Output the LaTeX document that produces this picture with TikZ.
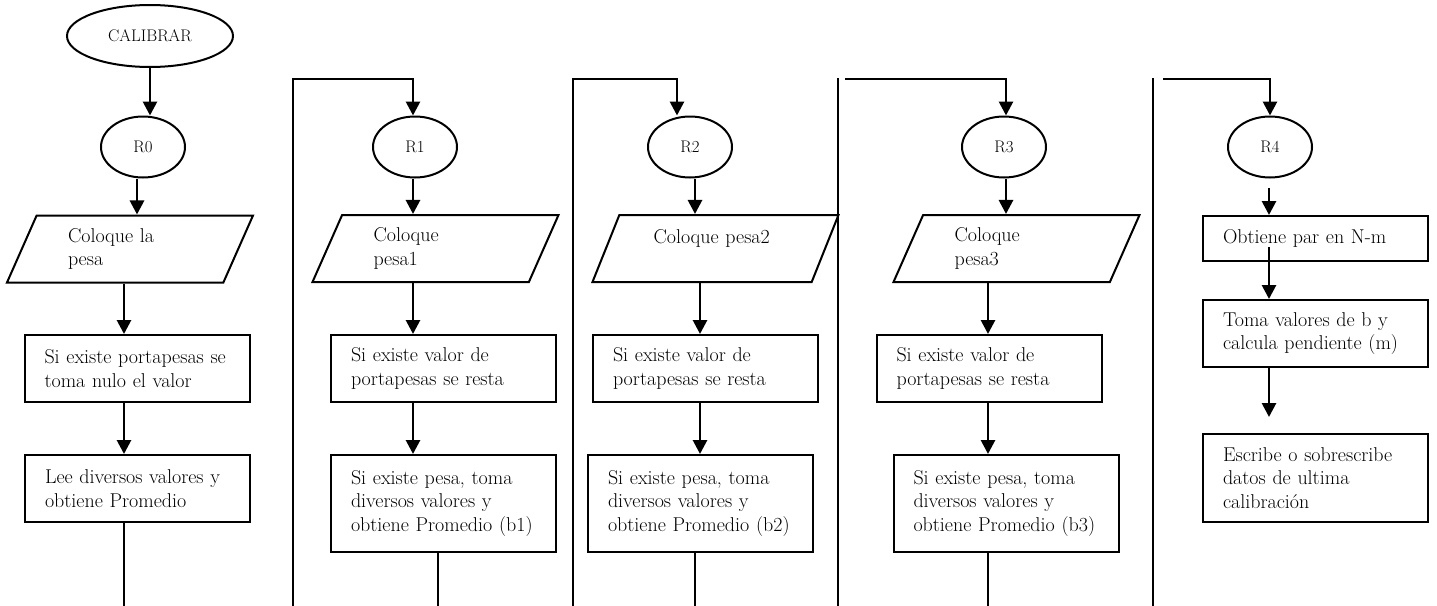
\documentclass[tikz,border=0pt]{standalone}
\usetikzlibrary{shapes.geometric,arrows.meta,calc}
\begin{document}
\begin{tikzpicture}[x=1pt,y=-1pt]
\tikzset{
 shp/.style={draw, line width=2pt},
 bodyf/.style={font=\fontsize{20}{23.5}\selectfont},
 term/.style={shp, ellipse, inner sep=0pt, font=\fontsize{16.8}{19}\selectfont},
 rnode/.style={term, minimum width=84pt, minimum height=61pt},
 io/.style={shp, bodyf, trapezium, trapezium left angle=54.4, trapezium right angle=125.6,
   trapezium stretches body, minimum width=246pt, minimum height=67pt,
   text width=124pt, align=left, inner sep=0pt},
 proc/.style={shp, bodyf, rectangle, inner xsep=20pt, inner ysep=0pt, text width=185pt, align=left},
 arr/.style={line width=2.8pt, -{Triangle[length=14pt,width=14pt]}},
 wire/.style={line width=1.8pt, line cap=rect},
}
\path[use as bounding box, fill=white] (0,0) rectangle (1437,605);

% nodes
\node[term, minimum width=166pt, minimum height=62pt] (cal) at (150,36) {CALIBRAR};
\node[rnode] (r0) at (143,147) {R0};
\node[rnode] (r1) at (415,147) {R1};
\node[rnode] (r2) at (690,147) {R2};
\node[rnode] (r3) at (1004,147) {R3};
\node[rnode] (r4) at (1270,147) {R4};

\node[io] (p0) at (130,249) {Coloque la\\pesa};
\node[io] (p1) at (435.5,248.5) {Coloque\\pesa1};
\node[io] (p2) at (715.5,248.5) {Coloque pesa2\\\mbox{}};
\node[io] (p3) at (1016.5,248.5) {Coloque\\pesa3};

\node[proc, minimum height=67pt] (a1) at (137,368.5) {Si existe portapesas se\\toma nulo el valor};
\node[proc, minimum height=67pt] (a2) at (137.5,488.5) {Lee diversos valores y\\obtiene Promedio};
\node[proc, minimum height=67pt] (b1) at (443.5,368.5) {Si existe valor de\\portapesas se resta};
\node[proc, minimum height=97pt] (b2) at (443.5,503.5) {Si existe pesa, toma\\diversos valores y\\obtiene Promedio (b1)};
\node[proc, minimum height=67pt] (c1) at (705.5,368.5) {Si existe valor de\\portapesas se resta};
\node[proc, minimum height=97pt] (c2) at (700.5,503.5) {Si existe pesa, toma\\diversos valores y\\obtiene Promedio (b2)};
\node[proc, minimum height=67pt] (d1) at (989,368.5) {Si existe valor de\\portapesas se resta};
\node[proc, minimum height=97pt] (d2) at (1006,503.5) {Si existe pesa, toma\\diversos valores y\\obtiene Promedio (b3)};
\node[proc, minimum height=45pt] (e1) at (1315.5,238.5) {Obtiene par en N-m};
\node[proc, minimum height=67pt] (e2) at (1315.5,333.5) {Toma valores de b y\\calcula pendiente (m)};
\node[proc, minimum height=88pt] (e3) at (1315.5,478) {Escribe o sobrescribe\\datos de ultima\\calibración};

% column 0
\coordinate (xa) at (150,0);
\coordinate (xb) at (137,0);
\coordinate (o0) at (124,605);
\draw[arr] (cal.south -| xa) -- (r0.north -| xa);
\draw[arr] (r0.south -| xb) -- (p0.north -| xb);
\draw[arr] (p0.south -| o0) -- (a1.north -| o0);
\draw[arr] (a1.south -| o0) -- (a2.north -| o0);
\draw[wire] (a2.south -| o0) -- (o0);

% column 1
\coordinate (i1) at (293,605);
\coordinate (t1) at (413,79);
\coordinate (o1) at (438,605);
\draw[wire] (i1) |- (t1);
\draw[arr] (t1) -- (r1.north -| t1);
\draw[arr] (r1.south -| t1) -- (p1.north -| t1);
\draw[arr] (p1.south -| t1) -- (b1.north -| t1);
\draw[arr] (b1.south -| t1) -- (b2.north -| t1);
\draw[wire] (b2.south -| o1) -- (o1);

% column 2
\coordinate (i2) at (573,605);
\coordinate (t2) at (677,79);
\coordinate (x2) at (695,0);
\coordinate (x2b) at (700,0);
\coordinate (o2) at (695,605);
\draw[wire] (i2) |- (t2);
\draw[arr] (t2) -- (r2.north -| t2);
\draw[arr] (r2.south -| x2) -- (p2.north -| x2);
\draw[arr] (p2.south -| x2b) -- (c1.north -| x2b);
\draw[arr] (c1.south -| x2b) -- (c2.north -| x2b);
\draw[wire] (c2.south -| o2) -- (o2);

% column 3
\coordinate (v3a) at (838,79);
\coordinate (v3b) at (838,605);
\coordinate (i3) at (846,79);
\coordinate (t3) at (1006,79);
\coordinate (o3) at (988,605);
\draw[wire] (v3a) -- (v3b);
\draw[wire] (i3) -- (t3);
\draw[arr] (t3) -- (r3.north -| t3);
\draw[arr] (r3.south -| t3) -- (p3.north -| t3);
\draw[arr] (p3.south -| o3) -- (d1.north -| o3);
\draw[arr] (d1.south -| o3) -- (d2.north -| o3);
\draw[wire] (d2.south -| o3) -- (o3);

% column 4
\coordinate (v4a) at (1153,79);
\coordinate (v4b) at (1153,605);
\coordinate (i4) at (1164,79);
\coordinate (t4) at (1270,79);
\coordinate (x4) at (1269,0);
\coordinate (s4) at ([yshift=-8.5pt]e1.center);
\draw[wire] (v4a) -- (v4b);
\draw[wire] (i4) -- (t4);
\draw[arr] (t4) -- (r4.north -| t4);
\draw[arr, shorten <=9.5pt] (r4.south -| x4) -- (e1.north -| x4);
\draw[arr] (s4 -| x4) -- (e2.north -| x4);
\draw[arr, shorten >=16pt] (e2.south -| x4) -- (e3.north -| x4);
\end{tikzpicture}
\end{document}
